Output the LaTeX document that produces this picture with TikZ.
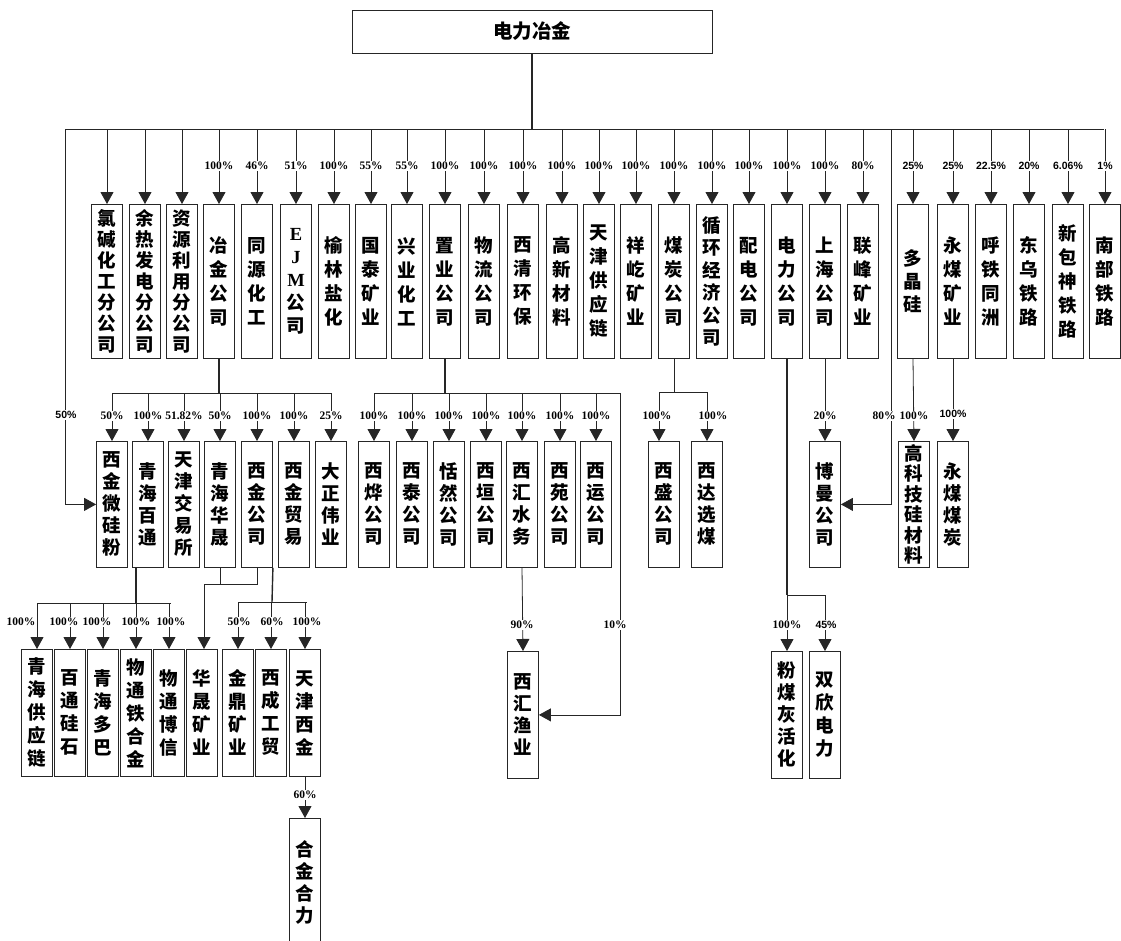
\documentclass[tikz,border=0pt]{standalone}
\usepackage{fontspec}
\setmainfont{Liberation Serif}
\newfontfamily\cjk{Noto Sans CJK SC}
\newfontfamily\lsans{Liberation Sans}
\usetikzlibrary{arrows.meta}
\begin{document}
\begin{tikzpicture}[x=1pt,y=-1pt,
  box/.style={draw=black!85, line width=0.8pt, minimum width=31pt, inner sep=0pt, anchor=north, align=center},
  tb/.style={box, minimum height=154pt},
  mb/.style={box, minimum height=126pt},
  lb/.style={box, minimum height=127pt},
  cj/.style={font=\cjk\bfseries\fontsize{18.5}{#1}\selectfont},
  conn/.style={draw=black!85, line width=0.8pt},
  thk/.style={conn, line width=1.4pt},
  arr/.style={conn, -{Triangle[width=13pt,length=12pt]}},
  pct/.style={fill=white, inner sep=1pt, font=\bfseries\fontsize{11.5}{12}\selectfont},
  pcts/.style={fill=white, inner sep=1pt, font=\lsans\bfseries\fontsize{10.5}{11}\selectfont}]
\useasboundingbox (0,0) rectangle (1121,940);

% root
\node[draw=black!85, line width=0.8pt, minimum width=360pt, minimum height=43pt, inner sep=0pt,
      font=\cjk\bfseries\fontsize{19.5}{22}\selectfont] (root) at (532,31.5) {电力冶金};
\draw[thk] (root.south) -- (532,129);
\draw[conn] (65,129) -- (1104,129);

% top row
\foreach \nn/\xx/\pitch/\tx in {
1/107/21/{氯\\碱\\化\\工\\分\\公\\司},
2/145/21/{余\\热\\发\\电\\分\\公\\司},
3/182/21/{资\\源\\利\\用\\分\\公\\司},
4/219/24/{冶\\金\\公\\司},
5/257/24/{同\\源\\化\\工},
6/296/23/{{\rmfamily E}\\{\rmfamily J}\\{\rmfamily M}\\公\\司},
7/334/24/{榆\\林\\盐\\化},
8/371/24/{国\\泰\\矿\\业},
9/407/24/{兴\\业\\化\\工},
10/445/24/{置\\业\\公\\司},
11/484/24/{物\\流\\公\\司},
12/523/24/{西\\清\\环\\保},
13/562/24/{高\\新\\材\\料},
14/599/24/{天\\津\\供\\应\\链},
15/636/24/{祥\\屹\\矿\\业},
16/674/24/{煤\\炭\\公\\司},
17/712/22.5/{循\\环\\经\\济\\公\\司},
18/749/24/{配\\电\\公\\司},
19/787/24/{电\\力\\公\\司},
20/825/24/{上\\海\\公\\司},
21/863/24/{联\\峰\\矿\\业},
22/913/23/{多\\晶\\硅},
23/953/24/{永\\煤\\矿\\业},
24/991/24/{呼\\铁\\同\\洲},
25/1029/24/{东\\乌\\铁\\路},
26/1068/24/{新\\包\\神\\铁\\路},
27/1105/24/{南\\部\\铁\\路}}
{\node[tb, cj=\pitch] (t\nn) at (\xx,204) {\tx};
 \draw[arr] (\xx,129) -- (t\nn.north);}

% second row
\foreach \nn/\xx/\pitch/\tx in {
1/112/22/{西\\金\\微\\硅\\粉},
2/148/22/{青\\海\\百\\通},
3/184/22/{天\\津\\交\\易\\所},
4/220/22/{青\\海\\华\\晟},
5/257/22/{西\\金\\公\\司},
6/294/22/{西\\金\\贸\\易},
7/331/22/{大\\正\\伟\\业},
8/374/22/{西\\烨\\公\\司},
9/412/22/{西\\泰\\公\\司},
10/449/22/{恬\\然\\公\\司},
11/486/22/{西\\垣\\公\\司},
12/522/22/{西\\汇\\水\\务},
13/560/22/{西\\苑\\公\\司},
14/596/22/{西\\运\\公\\司},
15/664/22/{西\\盛\\公\\司},
16/707/22/{西\\达\\选\\煤},
17/825/22/{博\\曼\\公\\司},
18/914/20.5/{高\\科\\技\\硅\\材\\料},
19/953/22/{永\\煤\\煤\\炭}}
{\node[mb, cj=\pitch] (s\nn) at (\xx,441) {\tx};}

% third row
\foreach \nn/\xx/\tx in {
1/37/{青\\海\\供\\应\\链},
2/70/{百\\通\\硅\\石},
3/103/{青\\海\\多\\巴},
4/136/{物\\通\\铁\\合\\金},
5/169/{物\\通\\博\\信},
6/202/{华\\晟\\矿\\业},
7/238/{金\\鼎\\矿\\业},
8/271/{西\\成\\工\\贸},
9/305/{天\\津\\西\\金}}
{\node[lb, cj=23] (u\nn) at (\xx,649) {\tx};}
\node[lb, cj=22] (u10) at (523,651) {西\\汇\\渔\\业};
\node[lb, cj=22] (u11) at (787,651) {粉\\煤\\灰\\活\\化};
\node[lb, cj=23] (u12) at (825,651) {双\\欣\\电\\力};
\node[box, minimum height=128pt, cj=22] (v1) at (305,818) {合\\金\\合\\力};

% connectors: 冶金公司
\draw[thk] (t4.south) -- (219,393);
\draw[conn] (112,393) -- (331,393);
\foreach \nn in {1,...,7} {\draw[arr] (s\nn.north |- 0,393) -- (s\nn.north);}
% 置业公司
\draw[thk] (t10.south) -- (445,393);
\draw[conn] (374,393) -- (620,393);
\foreach \nn in {8,...,14} {\draw[arr] (s\nn.north |- 0,393) -- (s\nn.north);}
\coordinate (zr) at (620,393);
\draw[arr] (zr) |- (u10.east);
% 煤炭公司
\draw[conn] (t16.south) -- (674,392);
\draw[conn] (659,392) -- (707,392);
\draw[arr] (659,392) -- (s15.north -| 659,0);
\draw[arr] (707,392) -- (s16.north);
% 上海公司, 联峰 80%, left 50%
\draw[arr] (t20.south) -- (s17.north);
\coordinate (c80) at (891,129);
\draw[arr] (c80) |- (s17.east);
\coordinate (c50) at (65,129);
\draw[arr] (c50) |- (s1.west);
\draw[arr] (t22.south) -- (s18.north);
\draw[arr] (t23.south) -- (s19.north);

% 青海百通
\draw[thk] (s2.south -| 136,0) -- (136,603);
\draw[conn] (37,603) -- (171,603);
\foreach \nn in {1,...,5} {\draw[arr] (u\nn.north |- 0,603) -- (u\nn.north);}
% 青海华晟 + 西金公司 -> 华晟矿业
\coordinate (j1) at (204,584);
\draw[conn] (s4.south) -- (220,584);
\draw[conn] (s5.south) -- (257,584) -- (j1);
\draw[arr] (j1) -- (u6.north -| 204,0);
% 西金公司
\draw[thk] (s5.south east) -- (272,602);
\draw[conn] (239,602) -- (307,602);
\foreach \nn in {7,8,9} {\draw[arr] (u\nn.north |- 0,602) -- (u\nn.north);}
\draw[arr] (u9.south) -- (v1.north);
% 西汇水务
\draw[arr] (s12.south) -- (u10.north);
% 电力公司
\draw[thk] (t19.south) -- (787,595);
\draw[arr] (787,595) -- (u11.north);
\draw[conn] (787,595) -- (825,595);
\draw[arr] (825,595) -- (u12.north);

% labels top
\foreach \nn/\p in {4/100,5/46,6/51,7/100,8/55,9/55,10/100,11/100,12/100,13/100,14/100,15/100,16/100,17/100,18/100,19/100,20/100,21/80}
 {\node[pct] (lt\nn) at (t\nn.north |- 0,166) {\p\%};}
\foreach \nn/\p in {22/25,23/25,24/22.5,25/20,26/6.06,27/1}
 {\node[pcts] (lt\nn) at (t\nn.north |- 0,166) {\p\%};}
% labels second row
\foreach \nn/\p in {1/50,2/100,3/51.82,4/50,5/100,6/100,7/25,8/100,9/100,10/100,11/100,12/100,13/100,14/100,17/20,18/100}
 {\node[pct] (ls\nn) at (s\nn.north |- 0,416) {\p\%};}
\node[pct] (ls15) at (657,416) {100\%};
\node[pct] (ls16) at (713,416) {100\%};
\node[pcts] (ls19) at (953,414) {100\%};
\node[pct] (l80) at (884,416) {80\%};
\node[pcts] (l50) at (66,415) {50\%};
% labels third row
\node[pct] (lu1) at (21,622) {100\%};
\node[pct] (lu2) at (64,622) {100\%};
\node[pct] (lu3) at (97,622) {100\%};
\node[pct] (lu4) at (136,622) {100\%};
\node[pct] (lu5) at (171,622) {100\%};
\node[pct] (lu7) at (239,622) {50\%};
\node[pct] (lu8) at (272,622) {60\%};
\node[pct] (lu9) at (307,622) {100\%};
\node[pct] (lu10) at (522,625) {90\%};
\node[pct] (l10) at (615,625) {10\%};
\node[pct] (lu11) at (787,625) {100\%};
\node[pcts] (lu12) at (826,625) {45\%};
\node[pct] (lv1) at (305,795) {60\%};
\end{tikzpicture}
\end{document}
